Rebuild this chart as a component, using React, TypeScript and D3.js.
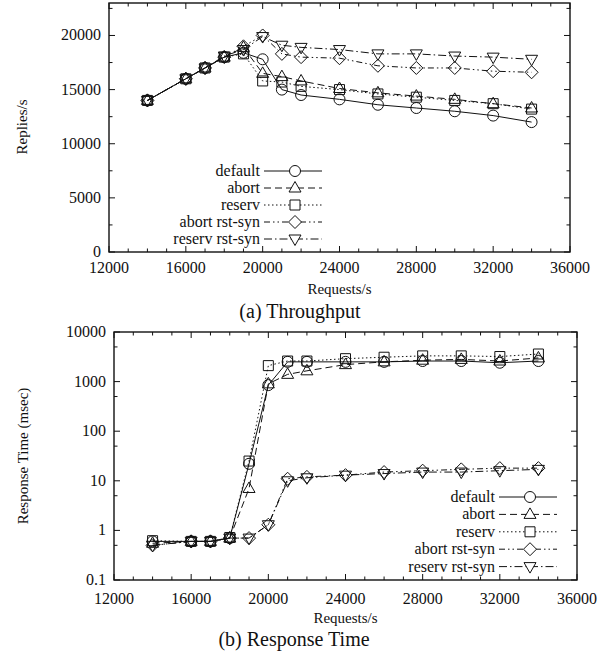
import React, { useEffect, useRef } from "react";
import * as d3 from "d3";

// x values (Requests/s)
const requests = [14000, 16000, 17000, 18000, 19000, 20000, 21000, 22000, 24000, 26000, 28000, 30000, 32000, 34000];
const seriesNames = ["default", "abort", "reserv", "abort rst-syn", "reserv rst-syn"];

// (a) Throughput, Replies/s
const repliesDefault = [14000, 16000, 17000, 18000, 18400, 17800, 15000, 14500, 14100, 13600, 13300, 13000, 12600, 12000];
const repliesAbort = [14000, 16000, 17000, 18000, 18900, 16500, 16200, 15800, 15100, 14700, 14400, 14100, 13700, 13300];
const repliesReserv = [14000, 16000, 17000, 18000, 18300, 15800, 15700, 15300, 15000, 14600, 14300, 14000, 13700, 13200];
const repliesAbortRst = [14000, 16000, 17000, 18000, 19000, 20000, 18300, 18000, 17900, 17200, 17000, 17000, 16700, 16600];
const repliesReservRst = [14000, 16000, 17000, 18100, 18700, 19900, 19100, 18900, 18700, 18300, 18300, 18100, 18000, 17800];

// (b) Response Time, msec
const rtDefault = [0.6, 0.6, 0.6, 0.7, 22, 850, 2500, 2500, 2500, 2500, 2600, 2600, 2400, 2600];
const rtAbort = [0.55, 0.6, 0.6, 0.7, 7, 900, 1400, 1650, 2200, 2500, 2700, 2800, 2600, 3000];
const rtReserv = [0.62, 0.6, 0.6, 0.72, 25, 2100, 2600, 2600, 2900, 3100, 3300, 3300, 3200, 3600];
const rtAbortRst = [0.5, 0.6, 0.6, 0.7, 0.7, 1.3, 11, 12, 13, 15, 16, 17, 18, 18];
const rtReservRst = [0.5, 0.6, 0.6, 0.7, 0.7, 1.3, 10, 11.5, 13, 14, 15, 15, 16, 17];

const xTicks = [12000, 16000, 20000, 24000, 28000, 32000, 36000];
const throughputTicks = [0, 5000, 10000, 15000, 20000];
const responseTicks = [0.1, 1, 10, 100, 1000, 10000];

const W = 609;
const H = 654;
const FONT = "'Liberation Serif', 'DejaVu Serif', serif";
const INK = "#111";

const dashes = [null, "7,4", "1.5,2.5", "6,3,1.5,3,1.5,3", "8,3,1.5,3"];
const markerKinds = ["circle", "triangle", "square", "diamond", "triangleDown"];

// gnuplot style hollow point shapes
const markerPath = (kind: string, x: number, y: number) => {
  const p = d3.path();
  if (kind === "circle") {
    p.moveTo(x + 5.5, y);
    p.arc(x, y, 5.5, 0, Math.PI * 2);
  } else if (kind === "square") {
    p.rect(x - 5, y - 5, 10, 10);
  } else if (kind === "diamond") {
    p.moveTo(x, y - 6.5); p.lineTo(x + 6.5, y); p.lineTo(x, y + 6.5); p.lineTo(x - 6.5, y); p.closePath();
  } else if (kind === "triangle") {
    p.moveTo(x, y - 6.5); p.lineTo(x + 6, y + 4); p.lineTo(x - 6, y + 4); p.closePath();
  } else {
    p.moveTo(x, y + 6.5); p.lineTo(x + 6, y - 4); p.lineTo(x - 6, y - 4); p.closePath();
  }
  return p.toString();
};

const drawPanel = (svg: any, o: any) => {
  const x = d3.scaleLinear().domain([12000, 36000]).range([o.left, o.right]);
  const y = o.y;
  const g = svg.append("g");

  // ticks on all four sides (pointing inward)
  d3.range(12000, 36001, 1000).forEach((v) => {
    const len = v % 4000 === 0 ? 6 : 3.5;
    g.append("line").attr("x1", x(v)).attr("x2", x(v)).attr("y1", o.bottom).attr("y2", o.bottom - len).attr("stroke", INK);
    g.append("line").attr("x1", x(v)).attr("x2", x(v)).attr("y1", o.top).attr("y2", o.top + len).attr("stroke", INK);
  });
  o.yTicks.forEach((v: number) => {
    g.append("line").attr("x1", o.left).attr("x2", o.left + 6).attr("y1", y(v)).attr("y2", y(v)).attr("stroke", INK);
    g.append("line").attr("x1", o.right).attr("x2", o.right - 6).attr("y1", y(v)).attr("y2", y(v)).attr("stroke", INK);
  });
  o.yMinor.forEach((v: number) => {
    g.append("line").attr("x1", o.left).attr("x2", o.left + 3.5).attr("y1", y(v)).attr("y2", y(v)).attr("stroke", INK);
    g.append("line").attr("x1", o.right).attr("x2", o.right - 3.5).attr("y1", y(v)).attr("y2", y(v)).attr("stroke", INK);
  });

  g.append("rect")
    .attr("x", o.left).attr("y", o.top)
    .attr("width", o.right - o.left).attr("height", o.bottom - o.top)
    .attr("fill", "none").attr("stroke", INK).attr("stroke-width", 1.4);

  const label = (t: string, lx: number, ly: number, anchor: string, size = 16) =>
    g.append("text").attr("x", lx).attr("y", ly).attr("text-anchor", anchor)
      .attr("font-family", FONT).attr("font-size", size).attr("fill", INK).text(t);

  xTicks.forEach((v) => label(String(v), x(v), o.xTickY, "middle"));
  o.yTicks.forEach((v: number) => label(String(v), o.left - 8, y(v) + 5, "end"));

  label("Requests/s", (o.left + o.right) / 2, o.xLabelY, "middle", 15);
  label(o.caption, o.captionX, o.captionY, "middle", 20);
  g.append("text")
    .attr("transform", `translate(${o.yLabelX},${o.yLabelY}) rotate(-90)`)
    .attr("text-anchor", "middle").attr("font-family", FONT).attr("font-size", 15).attr("fill", INK)
    .text(o.yLabel);

  const line = d3.line<number>().x((d, i) => x(requests[i])).y((d) => y(d));

  o.series.forEach((vals: number[], s: number) => {
    g.append("path").attr("d", line(vals)).attr("fill", "none")
      .attr("stroke", INK).attr("stroke-width", 1)
      .attr("stroke-dasharray", dashes[s]);
    vals.forEach((v, i) => {
      g.append("path").attr("d", markerPath(markerKinds[s], x(requests[i]), y(v)))
        .attr("fill", "none").attr("stroke", INK).attr("stroke-width", 1);
    });
  });

  // legend
  seriesNames.forEach((name, s) => {
    const ly = o.legendY + s * o.legendStep;
    label(name, o.legendX, ly + 5, "end");
    g.append("line").attr("x1", o.legendX + 4).attr("x2", o.legendX + 62)
      .attr("y1", ly).attr("y2", ly).attr("stroke", INK).attr("stroke-dasharray", dashes[s]);
    g.append("path").attr("d", markerPath(markerKinds[s], o.legendX + 35, ly))
      .attr("fill", "white").attr("stroke", INK);
  });
};

const App = () => {
  const ref = useRef<SVGSVGElement>(null);

  useEffect(() => {
    const svg = d3.select(ref.current);
    svg.selectAll("*").remove();

    const yTop = d3.scaleLinear().domain([0, 23000]).range([252, 3]);
    drawPanel(svg, {
      left: 109, right: 570, top: 3, bottom: 252,
      y: yTop,
      yTicks: throughputTicks,
      yMinor: d3.range(2500, 23000, 5000),
      series: [repliesDefault, repliesAbort, repliesReserv, repliesAbortRst, repliesReservRst],
      xTickY: 273, xLabelY: 294, caption: "(a)  Throughput", captionX: 300, captionY: 318,
      yLabel: "Replies/s", yLabelX: 27, yLabelY: 127,
      legendX: 260, legendY: 171, legendStep: 17,
    });

    const yBottom = d3.scaleLog().domain([0.1, 10000]).range([580, 332]);
    drawPanel(svg, {
      left: 114, right: 577, top: 332, bottom: 580,
      y: yBottom,
      yTicks: responseTicks,
      yMinor: [0.5, 5, 50, 500, 5000],
      series: [rtDefault, rtAbort, rtReserv, rtAbortRst, rtReservRst],
      xTickY: 604, xLabelY: 623, caption: "(b)  Response Time", captionX: 294, captionY: 646,
      yLabel: "Response Time (msec)", yLabelX: 28, yLabelY: 456,
      legendX: 495, legendY: 497, legendStep: 17.4,
    });
  }, []);

  return (
    <svg ref={ref} width={W} height={H}
      style={{ position: "absolute", left: 0, top: 0, background: "white" }} />
  );
};

export default App;
